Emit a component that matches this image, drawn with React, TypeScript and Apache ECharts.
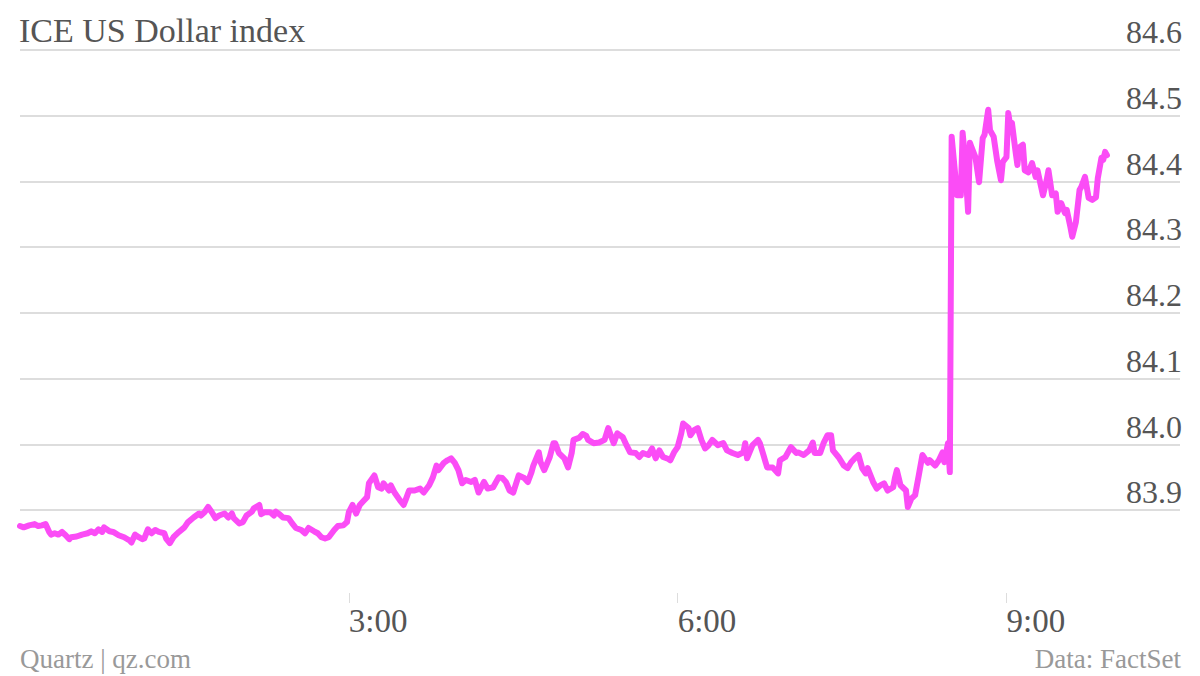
import React, { useEffect, useRef } from "react";
import * as echarts from "echarts";

const titleText = "ICE US Dollar index";
const sourceLeft = "Quartz | qz.com";
const sourceRight = "Data: FactSet";
const yTicks = [83.8, 84.6, 0.1]; // min, max, step
const xMaxMinutes = 635;
const xStepMinutes = 180;

// [minutes since midnight, index value]
const asiaSession: [number, number][] = [
  [0, 83.876], [2, 83.874], [5, 83.877], [8, 83.879], [10, 83.876], [12, 83.877], [14, 83.879], [16, 83.867],
  [17, 83.863], [19, 83.865], [21, 83.863], [23, 83.867], [25, 83.862], [27, 83.856], [28, 83.859], [31, 83.86],
  [34, 83.863], [37, 83.865], [39, 83.868], [41, 83.865], [43, 83.871], [45, 83.867], [46, 83.874], [49, 83.868],
  [51, 83.867], [54, 83.862], [57, 83.859], [60, 83.854], [61, 83.851], [63, 83.863], [65, 83.859], [67, 83.856],
  [68, 83.857], [70, 83.871], [72, 83.865], [74, 83.87], [76, 83.867], [79, 83.865], [80, 83.857], [82, 83.85],
  [84, 83.859], [87, 83.867], [90, 83.874], [92, 83.882], [95, 83.889], [98, 83.895],
  [99, 83.892], [101, 83.897], [103, 83.905], [105, 83.897], [107, 83.888], [109, 83.892], [112, 83.895],
  [114, 83.889], [116, 83.895], [117, 83.888], [120, 83.88], [122, 83.882], [124, 83.892], [127, 83.898],
  [128, 83.903], [131, 83.908], [132, 83.894], [134, 83.897], [137, 83.897], [139, 83.892], [140, 83.898],
  [142, 83.894], [144, 83.889], [147, 83.888], [149, 83.88], [151, 83.873], [154, 83.87], [156, 83.865],
  [158, 83.873], [161, 83.868], [163, 83.865], [165, 83.859], [167, 83.857], [169, 83.859], [172, 83.87],
  [174, 83.876], [177, 83.877], [179, 83.882], [180, 83.897], [182, 83.908], [184, 83.895], [186, 83.908],
  [188, 83.914], [190, 83.92], [191, 83.941], [194, 83.953], [196, 83.935], [198, 83.933], [199, 83.941],
  [202, 83.93],
];

const europeSession: [number, number][] = [
  [203, 83.938], [205, 83.927], [208, 83.915], [210, 83.908], [211, 83.915], [213, 83.93], [216, 83.93],
  [219, 83.933], [221, 83.927], [224, 83.938], [226, 83.95], [228, 83.968], [229, 83.961], [232, 83.972],
  [234, 83.976], [236, 83.979], [238, 83.972], [240, 83.961], [242, 83.941], [244, 83.946], [247, 83.943],
  [249, 83.946], [251, 83.927], [254, 83.943], [256, 83.933], [259, 83.935], [262, 83.95], [264, 83.949],
  [266, 83.943], [268, 83.93], [270, 83.927], [273, 83.953], [276, 83.949], [278, 83.943], [280, 83.958],
  [281, 83.968], [284, 83.988], [285, 83.973], [287, 83.961], [290, 83.981], [292, 84.002], [293, 84.002],
  [295, 83.987], [298, 83.979], [300, 83.965], [302, 83.987], [303, 84.007], [306, 84.01], [308, 84.016],
  [310, 84.013], [311, 84.007], [314, 84.002], [317, 84.003],
  [320, 84.007], [322, 84.025], [323, 84.017], [325, 84.002], [327, 84.017], [330, 84.011], [332, 83.999],
  [334, 83.988], [337, 83.987], [339, 83.981], [341, 83.987], [344, 83.984], [346, 83.994], [348, 83.979],
  [350, 83.991], [352, 83.981], [355, 83.978], [356, 83.976], [358, 83.988], [360, 83.996], [362, 84.017],
  [363, 84.032], [366, 84.025], [367, 84.014], [369, 84.022], [371, 84.025], [373, 84.007], [375, 83.994],
  [377, 83.999], [379, 84.007], [382, 83.999], [385, 84.002], [387, 83.991], [390, 83.987], [393, 83.984],
  [396, 83.988], [397, 84.002], [398, 83.979], [401, 83.999], [404, 84.007], [405, 84.002], [407, 83.984],
  [409, 83.965], [412, 83.965], [415, 83.956], [416, 83.976], [419, 83.981], [422, 83.996], [425, 83.987],
];

const preJumpSession: [number, number][] = [
  [426, 83.988], [429, 83.984], [432, 83.991], [434, 84.003], [435, 83.987], [438, 83.987], [440, 84.003],
  [442, 84.014], [444, 84.014], [445, 83.991], [448, 83.981], [451, 83.968], [453, 83.964], [455, 83.973],
  [457, 83.979], [459, 83.984], [461, 83.964], [463, 83.956], [464, 83.964], [467, 83.943], [469, 83.933],
  [471, 83.938], [473, 83.941], [475, 83.93], [478, 83.935], [479, 83.95], [480, 83.961], [482, 83.938],
  [485, 83.93], [486, 83.905], [488, 83.918], [490, 83.923], [492, 83.953], [494, 83.984], [497, 83.972],
  [498, 83.976], [501, 83.968], [503, 83.976], [505, 83.988], [506, 83.973], [508, 84.002], [509, 83.958],
];

const postJumpSession: [number, number][] = [
  [510, 84.468], [513, 84.379], [515, 84.379], [516, 84.474], [517, 84.445], [519, 84.354], [520, 84.459],
  [521, 84.451], [523, 84.437], [525, 84.399], [527, 84.466], [528, 84.471], [530, 84.509], [531, 84.478],
  [533, 84.468], [535, 84.43], [537, 84.402], [538, 84.43], [540, 84.437], [541, 84.504], [542, 84.486],
  [543, 84.489], [545, 84.445], [546, 84.425], [547, 84.452], [549, 84.456], [550, 84.417], [552, 84.414],
  [554, 84.428], [556, 84.407], [557, 84.417], [560, 84.379], [562, 84.402], [563, 84.417], [565, 84.379],
  [567, 84.382], [568, 84.354], [570, 84.367], [572, 84.352], [573, 84.357], [575, 84.331], [576, 84.316],
  [578, 84.338], [580, 84.387], [581, 84.392], [583, 84.407], [585, 84.375], [587, 84.372], [589, 84.376],
  [590, 84.405], [592, 84.436], [593, 84.433], [594, 84.445], [595, 84.44],
];

const serif = "'Liberation Serif', 'DejaVu Serif', serif";

export default function App() {
  const ref = useRef<HTMLDivElement>(null);
  useEffect(() => {
    if (!ref.current) return;
    const chart = echarts.init(ref.current, undefined, { renderer: "svg" });
    const data = [...asiaSession, ...europeSession, ...preJumpSession, ...postJumpSession];
    chart.setOption({
      animation: false,
      backgroundColor: "#ffffff",
      title: {
        text: titleText,
        left: 14,
        top: 8,
        textStyle: { fontFamily: serif, fontSize: 34, fontWeight: "normal", color: "#555555" },
      },
      grid: { left: 20, right: 20, top: 50, bottom: 100, containLabel: false },
      xAxis: {
        type: "value",
        min: 0,
        max: xMaxMinutes,
        interval: xStepMinutes,
        offset: 17,
        axisLine: { show: false },
        axisTick: { show: true, length: 10, lineStyle: { color: "#dddddd", width: 1 } },
        splitLine: { show: false },
        axisLabel: {
          showMinLabel: false,
          showMaxLabel: false,
          align: "left",
          margin: 11,
          fontFamily: serif,
          fontSize: 33,
          color: "#555555",
          formatter: (v: number) => (v === 0 ? "" : `${v / 60}:00`),
        },
      },
      yAxis: {
        type: "value",
        position: "right",
        min: yTicks[0],
        max: yTicks[1],
        interval: yTicks[2],
        axisLine: { show: false },
        axisTick: { show: false },
        splitLine: { show: true, showMinLine: false, lineStyle: { color: "#dddddd", width: 2 } },
        axisLabel: {
          inside: true,
          showMinLabel: false,
          margin: -2,
          verticalAlign: "bottom",
          padding: [0, 0, 2, 0],
          fontFamily: serif,
          fontSize: 32,
          color: "#555555",
          formatter: (v: number) => v.toFixed(1),
        },
      },
      series: [
        {
          type: "line",
          data,
          showSymbol: false,
          symbol: "none",
          lineStyle: { color: "#fb4cf6", width: 6, join: "round", cap: "round" },
          z: 3,
        },
      ],
      graphic: [
        {
          type: "text",
          left: 20,
          top: 645,
          style: { text: sourceLeft, fontFamily: serif, fontSize: 27, fill: "#999999" },
        },
        {
          type: "text",
          right: 19,
          top: 645,
          style: { text: sourceRight, fontFamily: serif, fontSize: 27, fill: "#999999" },
        },
      ],
    });
    return () => chart.dispose();
  }, []);
  return <div ref={ref} style={{ width: 1200, height: 676, position: "absolute", left: 0, top: 0 }} />;
}
